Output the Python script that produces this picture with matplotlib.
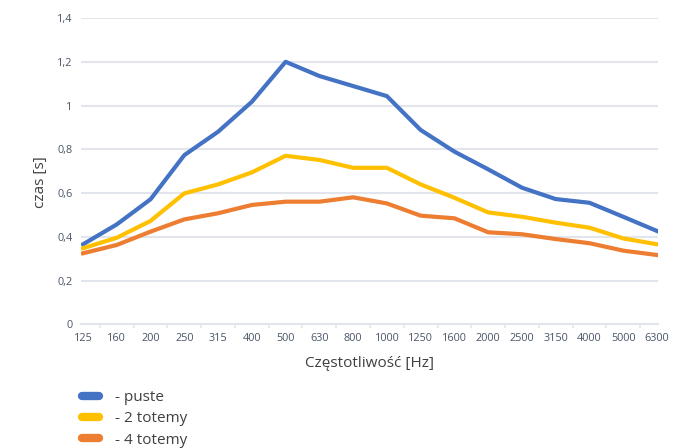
import matplotlib
matplotlib.use("Agg")
import matplotlib.pyplot as plt
import numpy as np

plt.rcParams["font.family"] = ["Open Sans", "DejaVu Sans"]

freqs = ["125", "160", "200", "250", "315", "400", "500", "630", "800", "1000",
         "1250", "1600", "2000", "2500", "3150", "4000", "5000", "6300"]
puste = [0.366, 0.457, 0.572, 0.774, 0.881, 1.018, 1.201, 1.136, 1.090, 1.044,
         0.889, 0.790, 0.709, 0.625, 0.573, 0.556, 0.492, 0.427]
totemy2 = [0.348, 0.396, 0.473, 0.599, 0.640, 0.695, 0.771, 0.752, 0.716, 0.716,
           0.640, 0.579, 0.512, 0.492, 0.465, 0.442, 0.393, 0.366]
totemy4 = [0.325, 0.363, 0.424, 0.480, 0.508, 0.546, 0.561, 0.561, 0.581, 0.553,
           0.497, 0.485, 0.421, 0.412, 0.390, 0.371, 0.337, 0.317]
labels = ["- puste", "- 2 totemy", "- 4 totemy"]
colors = ["#4472C4", "#FFC000", "#ED7D31"]

TICK_COL = "#4a5568"
GRID_COL = "#e2e6ec"

fig = plt.figure(figsize=(6.99, 4.48), dpi=100)
ax = fig.add_axes([81 / 699, 1 - 324.3 / 448, 577 / 699, 306 / 448])

x = np.arange(len(freqs))
lines = []
for ys, c, lab in zip([puste, totemy2, totemy4], colors, labels):
    ln, = ax.plot(x, ys, color=c, linewidth=3, label=lab, solid_joinstyle="round")
    lines.append(ln)

ax.set_xlim(-0.06, len(freqs) - 1 + 0.03)
ax.set_ylim(0, 1.4)
ax.set_yticks(np.arange(0, 1.41, 0.2))
ax.set_yticklabels(["0", "0,2", "0,4", "0,6", "0,8", "1", "1,2", "1,4"])
ax.set_xticks(x)
ax.set_xticklabels(freqs)
ax.set_xticks(x[:-1] + 0.5, minor=True)

ax.grid(axis="y", color=GRID_COL, linewidth=1.5)
ax.set_axisbelow(True)
for s in ["top", "right", "left"]:
    ax.spines[s].set_visible(False)
ax.spines["bottom"].set_color(GRID_COL)
ax.spines["bottom"].set_linewidth(1.5)

ax.tick_params(axis="y", length=0, pad=6, labelsize=7.8, labelcolor=TICK_COL)
ax.tick_params(axis="x", which="major", length=0, pad=6, labelsize=7.8, labelcolor=TICK_COL)
ax.tick_params(axis="x", which="minor", length=3, width=1.2, color=GRID_COL)

ax.set_ylabel("czas [s]", fontsize=11, color="#404040")
ax.yaxis.set_label_coords(-0.058, 0.465)
ax.set_xlabel("Częstotliwość [Hz]", fontsize=11, color="#404040", labelpad=9)

leg = fig.legend(handles=lines, loc="upper left", bbox_to_anchor=(82 / 699, 1 - 390 / 448),
                 frameon=False, fontsize=11, handlelength=1.1, handletextpad=1.05,
                 labelspacing=0.42, borderaxespad=0, borderpad=0)
for h in leg.get_lines():
    h.set_linewidth(6)
    h.set_solid_capstyle("round")
for t in leg.get_texts():
    t.set_color("#404040")

fig.savefig("out.png", dpi=100)
